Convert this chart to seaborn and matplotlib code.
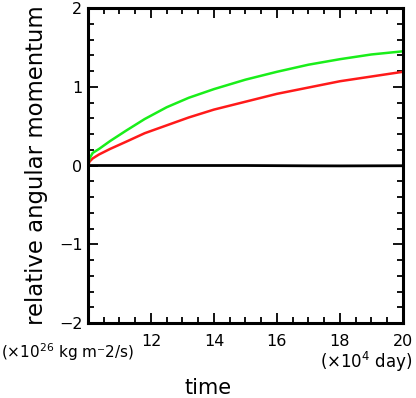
import numpy as np
import pandas as pd
import seaborn as sns
import matplotlib.pyplot as plt
from matplotlib.ticker import MultipleLocator

# values (time in 1e4 day, momentum in 1e26 kg m-2/s)
time = [10.0, 10.05, 10.15, 10.35, 10.7, 11.2, 11.8, 12.5, 13.2, 14.0, 15.0, 16.0, 17.0, 18.0, 19.0, 20.0]
green = [0.0, 0.09, 0.16, 0.21, 0.31, 0.44, 0.59, 0.74, 0.86, 0.97, 1.09, 1.19, 1.28, 1.35, 1.41, 1.45]
red = [0.0, 0.05, 0.09, 0.14, 0.21, 0.30, 0.41, 0.51, 0.61, 0.71, 0.81, 0.91, 0.99, 1.07, 1.13, 1.19]
black = [0.0, 0.0, 0.0, 0.0, 0.0, 0.0, 0.0, 0.0, 0.0, 0.0, 0.0, -0.002, -0.004, -0.005, -0.004, -0.003]

df = pd.DataFrame({'time': time, 'green': green, 'red': red, 'black': black})

sns.set_style('ticks')
plt.rcParams['font.family'] = ['DejaVu Sans']
plt.rcParams['text.color'] = 'black'

fig = plt.figure(figsize=(4.16, 3.98), dpi=100)
ax = fig.add_axes([0.2115, 0.1884, 0.757, 0.7915])

sns.lineplot(x='time', y='black', data=df, color='black', linewidth=2, ax=ax)
sns.lineplot(x='time', y='red', data=df, color='#ff1a1a', linewidth=1.8, ax=ax)
sns.lineplot(x='time', y='green', data=df, color='#1aee1a', linewidth=1.8, ax=ax)

ax.set_xlim(10, 20)
ax.set_ylim(-2, 2)
ax.xaxis.set_minor_locator(MultipleLocator(0.5))
ax.yaxis.set_major_locator(MultipleLocator(1))
ax.yaxis.set_minor_locator(MultipleLocator(0.2))
ax.set_xticks([12, 14, 16, 18, 20])
ax.set_xticklabels(['12', '14', '16', '18', '20'])
ax.tick_params(which='both', direction='in', top=True, right=True, width=1.3,
               labelsize=11.5, colors='black')
ax.tick_params(which='major', length=7)
ax.tick_params(which='minor', length=4)
ax.tick_params(axis='x', which='major', pad=8)
ax.tick_params(axis='y', which='major', pad=4)
for s in ax.spines.values():
    s.set_linewidth(2.2)
    s.set_color('black')

ax.set_xlabel('')
ax.set_ylabel('')
fig.text(0.087, 0.585, 'relative angular momentum', fontsize=16.4, rotation=90,
         ha='center', va='center')
fig.text(0.5, 0.025, 'time', fontsize=15, ha='center', va='center')
fig.text(0.003, 0.115, '(×10$^{26}$ kg m⁻2/s)', fontsize=11, ha='left', va='center')
fig.text(0.993, 0.09, '(×10$^{4}$ day)', fontsize=12, ha='right', va='center')

plt.savefig('out.png', dpi=100)
